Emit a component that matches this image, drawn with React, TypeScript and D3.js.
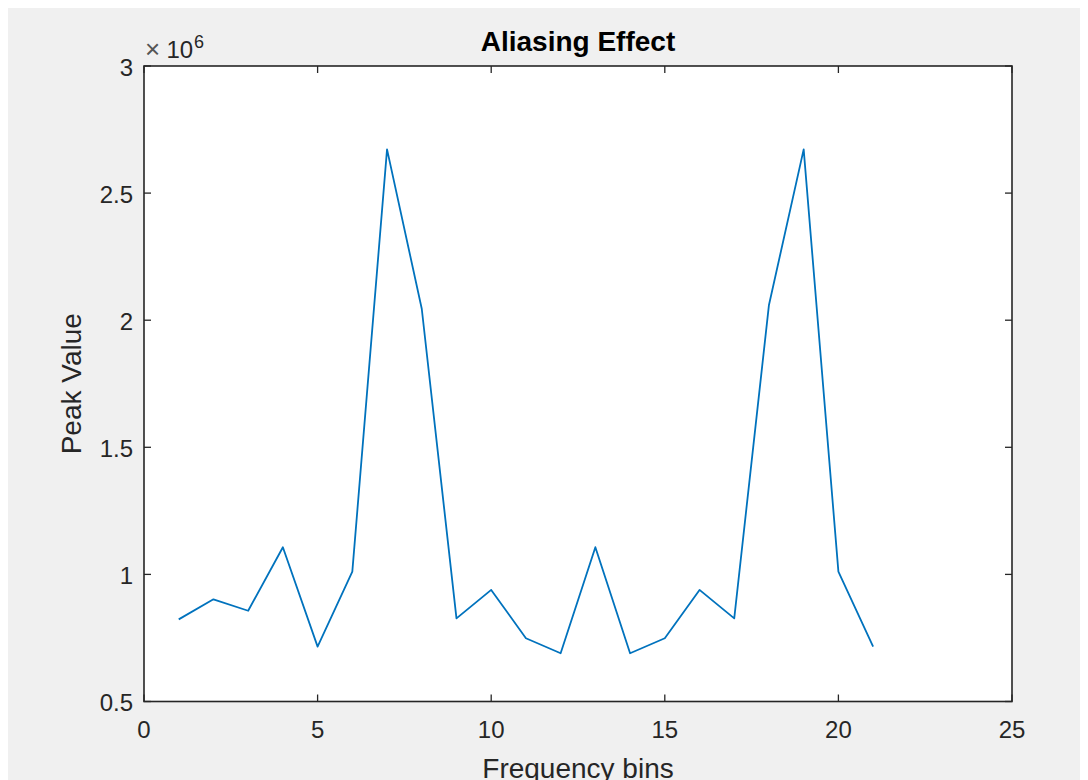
import * as d3 from "d3";
import React from "react";

// frequency bins and peak values
const bins = [1, 2, 3, 4, 5, 6, 7, 8, 9, 10, 11, 12, 13, 14, 15, 16, 17, 18, 19, 20, 21];
const peaks = [
    0.823e6, 0.902e6, 0.857e6, 1.107e6, 0.716e6, 1.011e6, 2.672e6, 2.045e6, 0.827e6, 0.939e6, 0.749e6,
    0.69e6, 1.107e6, 0.69e6, 0.749e6, 0.939e6, 0.827e6, 2.06e6, 2.672e6, 1.011e6, 0.716e6,
];
const xTicks = [0, 5, 10, 15, 20, 25];
const yTicks = [0.5e6, 1e6, 1.5e6, 2e6, 2.5e6, 3e6];

const width = 1080;
const height = 772;
const margin = { top: 58, bottom: 78.5, left: 136, right: 76 };
const font = "'Liberation Sans', Arial, Helvetica, sans-serif";
const axisColor = "#262626";
const tickLen = 7;

const App = () => {
    const boundsWidth = width - margin.left - margin.right;
    const boundsHeight = height - margin.top - margin.bottom;

    const scaleX = d3.scaleLinear().domain([0, 25]).range([margin.left, margin.left + boundsWidth]);
    const scaleY = d3.scaleLinear().domain([0.5e6, 3e6]).range([margin.top + boundsHeight, margin.top]);

    const line = d3.line<number>()
        .x((d, i) => scaleX(bins[i]))
        .y(d => scaleY(d));

    const left = margin.left;
    const right = margin.left + boundsWidth;
    const top = margin.top;
    const bottom = margin.top + boundsHeight;

    return (
        <>
            <style>{"html,body{overflow:hidden}"}</style>
            <svg width={width} height={height} style={{ display: "block", fontFamily: font }}>
                <rect x={0} y={0} width={width} height={height} fill="#f0f0f0" />
                <rect x={left} y={top} width={boundsWidth} height={boundsHeight} fill="#ffffff" />

                <path d={line(peaks) || ""} fill="none" stroke="#0072bd" strokeWidth={1.8} strokeLinejoin="round" />

                {xTicks.map(t => (
                    <g key={"x" + t}>
                        <line x1={scaleX(t)} x2={scaleX(t)} y1={bottom} y2={bottom - tickLen} stroke={axisColor} strokeWidth={1.3} />
                        <line x1={scaleX(t)} x2={scaleX(t)} y1={top} y2={top + tickLen} stroke={axisColor} strokeWidth={1.3} />
                        <text x={scaleX(t)} y={bottom + 36.5} textAnchor="middle" fontSize={24} fill="#262626">
                            {d3.format("~g")(t)}
                        </text>
                    </g>
                ))}

                {yTicks.map(t => (
                    <g key={"y" + t}>
                        <line x1={left} x2={left + tickLen} y1={scaleY(t)} y2={scaleY(t)} stroke={axisColor} strokeWidth={1.3} />
                        <line x1={right} x2={right - tickLen} y1={scaleY(t)} y2={scaleY(t)} stroke={axisColor} strokeWidth={1.3} />
                        <text x={left - 11} y={scaleY(t) + 9.5} textAnchor="end" fontSize={24} fill="#262626">
                            {d3.format("~g")(t / 1e6)}
                        </text>
                    </g>
                ))}

                <rect x={left} y={top} width={boundsWidth} height={boundsHeight} fill="none" stroke={axisColor} strokeWidth={1.6} />

                {/* exponent label */}
                <text x={left + 1} y={50.3} fontSize={26} fill="#555">×</text>
                <text x={left + 22.5} y={50.3} fontSize={24} fill="#262626">10</text>
                <text x={left + 50} y={40.3} fontSize={18} fill="#262626">6</text>

                <text x={left + boundsWidth / 2} y={43} textAnchor="middle" fontSize={28} fontWeight="bold" fill="#000">
                    Aliasing Effect
                </text>

                <text x={left + boundsWidth / 2} y={height - 2} textAnchor="middle" fontSize={28} fill="#262626">
                    Frequency bins
                </text>

                <text transform={`translate(73, ${top + boundsHeight / 2}) rotate(-90)`} textAnchor="middle" fontSize={28} fill="#262626">
                    Peak Value
                </text>
            </svg>
        </>
    );
};

export default App;
